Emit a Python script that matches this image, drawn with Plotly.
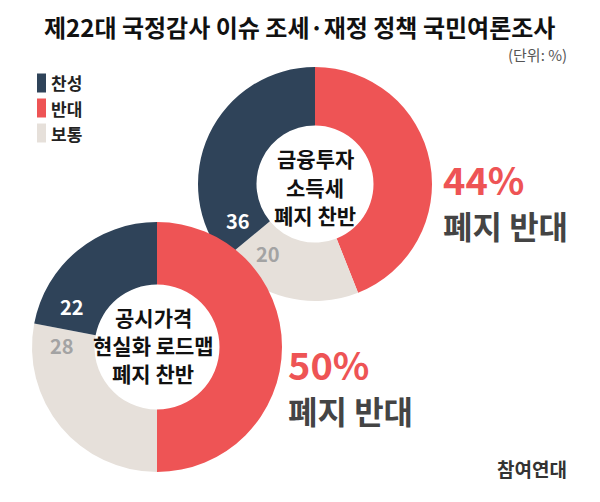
import plotly.graph_objects as go

# ---- data ----
categories = ["찬성", "반대", "보통"]
colors = {"찬성": "#2F4359", "반대": "#EE5455", "보통": "#E6E0DA"}

top_title = ["금융투자", "소득세", "폐지 찬반"]
top_values = {"찬성": 36, "반대": 44, "보통": 20}

bottom_title = ["공시가격", "현실화 로드맵", "폐지 찬반"]
bottom_values = {"찬성": 22, "반대": 50, "보통": 28}

slice_order = ["반대", "보통", "찬성"]  # clockwise from 12 o'clock

W, H = 600, 502
FONT = "Noto Sans CJK KR"


def px(x):
    return x / W


def py(y):
    return 1 - y / H


fig = go.Figure()


def add_donut(vals, cx, cy, r):
    fig.add_trace(go.Pie(
        labels=slice_order,
        values=[vals[k] for k in slice_order],
        marker=dict(colors=[colors[k] for k in slice_order], line=dict(width=0)),
        hole=0.5,
        sort=False,
        direction="clockwise",
        rotation=0,
        textinfo="none",
        hoverinfo="label+value",
        showlegend=False,
        domain=dict(x=[px(cx - r), px(cx + r)], y=[py(cy + r), py(cy - r)]),
    ))


add_donut(top_values, 315, 184, 117)
add_donut(bottom_values, 157, 347, 125)

ann = []


def text(x, y, s, size, color, xanchor="center", yanchor="middle", bold=True):
    ann.append(dict(
        x=px(x), y=py(y), xref="paper", yref="paper", text=f"<b>{s}</b>" if bold else s,
        showarrow=False, xanchor=xanchor, yanchor=yanchor,
        font=dict(family=FONT, size=size, color=color),
    ))


# title
text(299, 27, "제22대 국정감사 이슈 조세·재정 정책 국민여론조사", 24, "#111111")
text(569, 54, "(단위: %)", 15, "#555555", xanchor="right", bold=False)

# legend
leg_y = [83, 108, 133]
shapes = []
for cat, yc in zip(categories, leg_y):
    shapes.append(dict(type="rect", xref="paper", yref="paper",
                       x0=px(37), x1=px(46), y0=py(yc + 9.5), y1=py(yc - 9.5),
                       fillcolor=colors[cat], line=dict(width=0)))
    text(49, yc, cat, 17, "#222222", xanchor="left")

# center titles (one annotation per line for exact spacing)
for i, line in enumerate(top_title):
    text(315, 158 + 28.5 * i, line, 21, "#111111")
for i, line in enumerate(bottom_title):
    text(153, 317 + 28 * i, line, 21, "#111111")

# slice value labels
text(238, 220, top_values["찬성"], 20, "#FFFFFF")
text(268, 253, top_values["보통"], 20, "#A3A3A3")
text(72, 306, bottom_values["찬성"], 20, "#FFFFFF")
text(62, 345, bottom_values["보통"], 20, "#A3A3A3")

# big callouts
text(441, 178, f"{top_values['반대']}%", 38, colors["반대"], xanchor="left")
text(441, 225, "폐지 반대", 32, "#444444", xanchor="left")
text(286, 363, f"{bottom_values['반대']}%", 38, colors["반대"], xanchor="left")
text(286, 410, "폐지 반대", 32, "#444444", xanchor="left")

# source mark
text(532, 468, "참여연대", 19, "#333333")

fig.update_layout(
    width=W, height=H,
    margin=dict(l=0, r=0, t=0, b=0),
    paper_bgcolor="white", plot_bgcolor="white",
    annotations=ann, shapes=shapes,
    showlegend=False,
)

fig.write_html("out.html", config={"displayModeBar": False})
